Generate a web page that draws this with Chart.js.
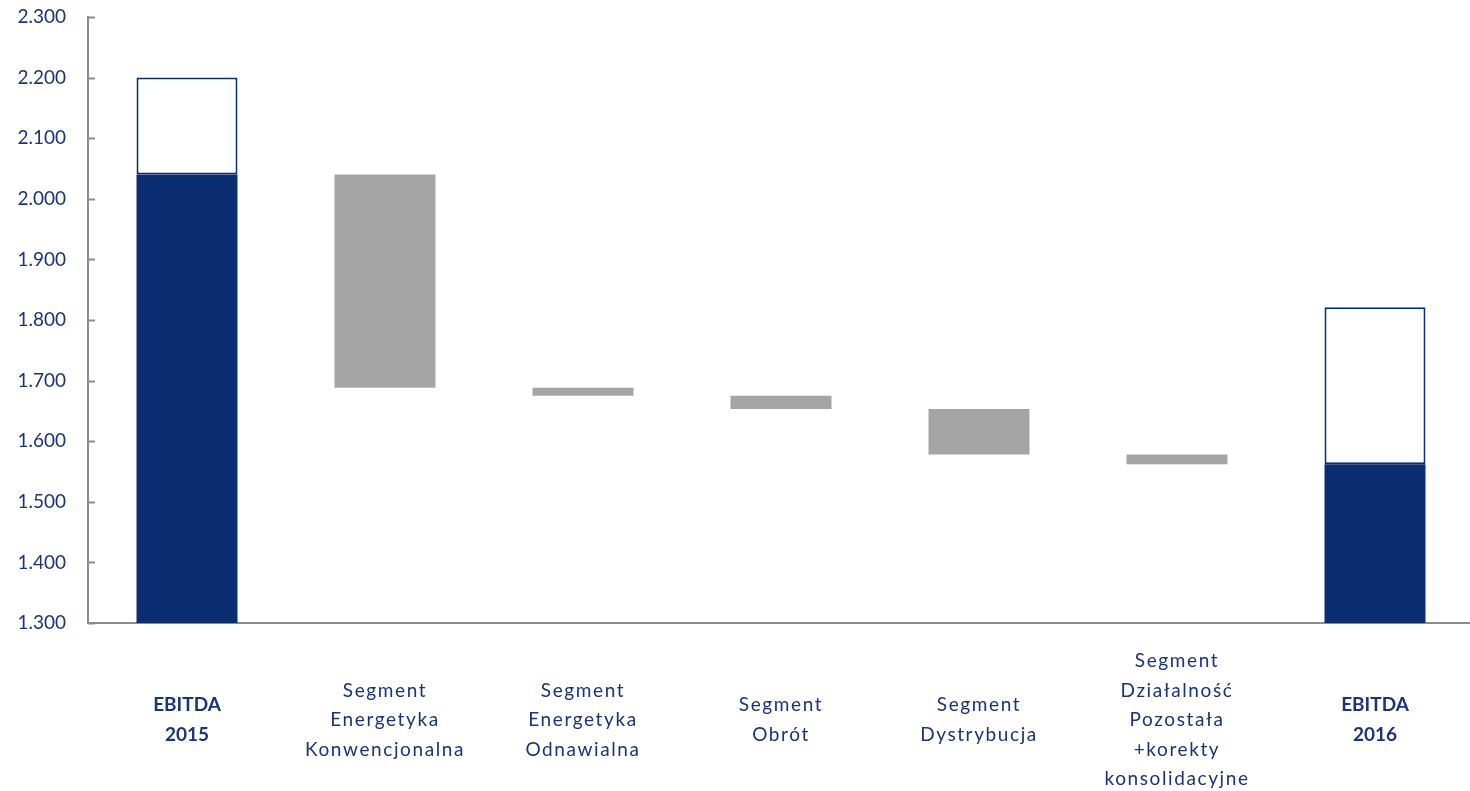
<!DOCTYPE html>
<html>
<head>
<meta charset="utf-8">
<script src="https://cdn.jsdelivr.net/npm/chart.js@4.4.1/dist/chart.umd.min.js"></script>
<style>
  html, body { margin: 0; padding: 0; background: #fff; overflow: hidden; }
  #wrap { width: 1474px; height: 791px; }
</style>
</head>
<body>
<div id="wrap"><canvas id="ebitdaChart"></canvas></div>
<script>
const categories = [
  ['EBITDA', '2015'],
  ['Segment', 'Energetyka', 'Konwencjonalna'],
  ['Segment', 'Energetyka', 'Odnawialna'],
  ['Segment', 'Obrót'],
  ['Segment', 'Dystrybucja'],
  ['Segment', 'Działalność', 'Pozostała', '+korekty', 'konsolidacyjne'],
  ['EBITDA', '2016']
];

// EBITDA totals (outlined part on top) and the part carried through the bridge
const ebitdaTotal = [2200, null, null, null, null, null, 1821];
const ebitdaBase = [2040, null, null, null, null, null, 1562];

// change per segment, 2015 -> 2016
const segmentChange = [null, -352, -13, -22, -75, -16, null];

const yTicks = [1300, 1400, 1500, 1600, 1700, 1800, 1900, 2000, 2100, 2200, 2300];

const navy = '#0b2d72';
const textColor = '#1a3478';
const axisGray = '#8c8c8c';

// floating bars for the bridge steps
const steps = [];
let running = ebitdaBase[0];
segmentChange.forEach(d => {
  if (d === null) { steps.push(null); return; }
  steps.push([running, running + d]);
  running += d;
});

const topParts = ebitdaTotal.map((t, i) => (t === null ? null : [ebitdaBase[i], t]));

function fmt(v) {
  return String(v).replace(/\B(?=(\d{3})+(?!\d))/g, '.');
}

// short tick marks on the inner side of the value axis
const innerTicks = {
  id: 'innerTicks',
  afterDraw(chart) {
    const y = chart.scales.y;
    const c = chart.ctx;
    const x0 = chart.chartArea.left;
    c.save();
    c.strokeStyle = axisGray;
    c.lineWidth = 2;
    yTicks.forEach(v => {
      const py = Math.round(y.getPixelForValue(v)) + 0.5;
      c.beginPath();
      c.moveTo(x0, py);
      c.lineTo(x0 + 7, py);
      c.stroke();
    });
    c.restore();
  }
};

// multi-line category labels, centred vertically under each bar, spaced out a bit
const categoryLabels = {
  id: 'categoryLabels',
  afterDraw(chart) {
    const x = chart.scales.x;
    const c = chart.ctx;
    const centerY = x.top + 97;
    const lineH = 29.5;
    c.save();
    c.fillStyle = textColor;
    c.textAlign = 'center';
    c.textBaseline = 'middle';
    categories.forEach((lines, i) => {
      const bold = lines[0] === 'EBITDA';
      c.font = (bold ? 'bold ' : '') + '19px Lato';
      c.letterSpacing = bold ? '0px' : '1.6px';
      const px = x.getPixelForTick(i);
      lines.forEach((t, j) => {
        c.fillText(t, px, centerY + (j - (lines.length - 1) / 2) * lineH);
      });
    });
    c.restore();
  }
};

const ctx = document.getElementById('ebitdaChart').getContext('2d');
new Chart(ctx, {
  type: 'bar',
  data: {
    labels: categories.map(l => l.join(' ')),
    datasets: [
      {
        data: ebitdaBase,
        backgroundColor: navy,
        borderWidth: 0,
        grouped: false,
        order: 2
      },
      {
        data: topParts,
        backgroundColor: '#ffffff',
        borderColor: navy,
        borderWidth: 2,
        borderSkipped: false,
        grouped: false,
        order: 1
      },
      {
        data: steps,
        backgroundColor: '#a5a5a5',
        borderWidth: 0,
        grouped: false,
        order: 3
      }
    ]
  },
  options: {
    responsive: true,
    maintainAspectRatio: false,
    animation: false,
    categoryPercentage: 1,
    barPercentage: 0.51,
    layout: { padding: 0 },
    plugins: {
      legend: { display: false },
      tooltip: { enabled: false }
    },
    scales: {
      x: {
        grid: { display: false, drawTicks: false },
        border: { color: axisGray, width: 2 },
        ticks: { display: false },
        afterFit: axis => { axis.height = 168; }
      },
      y: {
        min: 1300,
        max: 2300,
        afterBuildTicks: axis => { axis.ticks = yTicks.map(v => ({ value: v })); },
        afterFit: axis => {
          axis.width = 88;
          axis.paddingTop = 17;
          axis.paddingBottom = 0;
        },
        grid: { display: false, drawTicks: false },
        border: { color: axisGray, width: 2 },
        ticks: {
          padding: 22,
          color: textColor,
          font: { family: 'Lato', size: 19 },
          callback: v => fmt(v)
        }
      }
    }
  },
  plugins: [innerTicks, categoryLabels]
});
</script>
</body>
</html>
